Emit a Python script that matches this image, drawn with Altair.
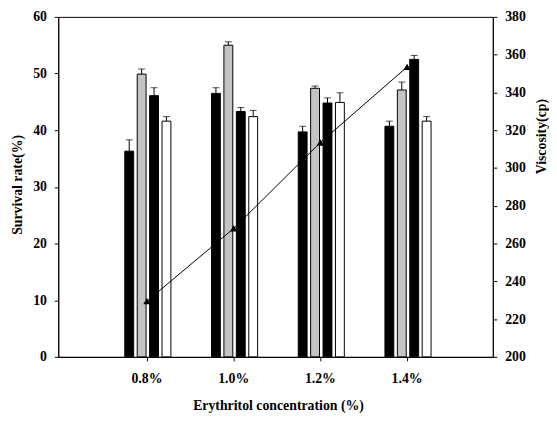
import altair as alt
import pandas as pd

concentrations = ["0.8%", "1.0%", "1.2%", "1.4%"]
series = ["A", "B", "C", "D"]
# survival rate (%) per series, per concentration
surv_A = [36.3, 46.5, 39.7, 40.7]
surv_B = [49.9, 55.0, 47.4, 47.1]
surv_C = [46.1, 43.3, 44.8, 52.5]
surv_D = [41.6, 42.4, 44.9, 41.6]
err_A = [2.0, 1.0, 1.0, 0.9]
err_B = [0.9, 0.6, 0.4, 1.4]
err_C = [1.4, 0.7, 0.9, 0.7]
err_D = [0.8, 1.1, 1.7, 0.8]
viscosity = [229.5, 268.0, 313.5, 353.5]

fills = {"A": "#000000", "B": "#c4c4c4", "C": "#000000", "D": "#ffffff"}

rows = []
for s, vals, errs in [("A", surv_A, err_A), ("B", surv_B, err_B),
                      ("C", surv_C, err_C), ("D", surv_D, err_D)]:
    for c, v, e in zip(concentrations, vals, errs):
        rows.append({"conc": c, "series": s, "value": v, "top": v + e})
bars_df = pd.DataFrame(rows)
visc_df = pd.DataFrame({"conc": concentrations, "visc": viscosity})

xscale = alt.Scale(domain=concentrations, paddingInner=0, paddingOuter=0.5057, align=0.517)
xoff = alt.XOffset("series:N", scale=alt.Scale(domain=series, range=[21.5, 68.3],
                                               paddingInner=0.286, paddingOuter=0))

x_enc = alt.X("conc:N", scale=xscale, sort=concentrations,
              axis=alt.Axis(title="Erythritol concentration (%)", labelAngle=0,
                            tickSize=4, labelPadding=11, titleX=223, titleY=49,
                            titleBaseline="middle", domainColor="black", tickColor="black"))

left_axis = alt.Axis(title="Survival rate(%)", values=[0, 10, 20, 30, 40, 50, 60],
                     grid=False, tickSize=4, labelPadding=8, titleX=-41, titleY=170,
                     titleAngle=270, titleAlign="center", titleBaseline="middle",
                     labelOverlap=False,
                     domainColor="black", tickColor="black")
left_scale = alt.Scale(domain=[0, 60])
yleft = alt.Y("value:Q", scale=left_scale, axis=left_axis)

bars = alt.Chart(bars_df).mark_bar(stroke="black", strokeWidth=1).encode(
    x=x_enc,
    xOffset=xoff,
    y=yleft,
    fill=alt.Fill("series:N", scale=alt.Scale(domain=series, range=[fills[s] for s in series]), legend=None),
)

err_rule = alt.Chart(bars_df).mark_rule(color="black", strokeWidth=1).encode(
    x=x_enc,
    xOffset=xoff,
    y=yleft,
    y2="top:Q",
)
err_cap = alt.Chart(bars_df).mark_tick(color="black", size=7, thickness=1).encode(
    x=x_enc,
    xOffset=xoff,
    y=alt.Y("top:Q", scale=left_scale, axis=left_axis),
)

left = alt.layer(bars, err_rule, err_cap)

right_axis = alt.Axis(title="Viscosity(cp)", orient="right",
                      values=list(range(200, 381, 20)), grid=False, tickSize=4,
                      labelPadding=8, titleX=49, titleY=121, titleAngle=270,
                      titleAlign="center", titleBaseline="middle",
                      labelOverlap=False,
                      domainColor="black", tickColor="black")
yright = alt.Y("visc:Q", scale=alt.Scale(domain=[200, 380]), axis=right_axis)

line = alt.Chart(visc_df).mark_line(color="black", strokeWidth=1).encode(
    x=x_enc, y=yright)
pts = alt.Chart(visc_df).mark_point(shape="triangle-up", filled=True, color="black",
                                    size=55, opacity=1).encode(
    x=x_enc, y=yright)
right = alt.layer(line, pts)

chart = alt.layer(left, right).resolve_scale(y="independent").properties(
    width=441, height=345,
    background="white",
    autosize=alt.AutoSizeParams(type="none"),
    padding={"left": 51, "top": 6, "right": 57, "bottom": 58},
).configure_view(stroke="black", strokeWidth=1).configure_axis(
    labelFont="Liberation Serif", titleFont="Liberation Serif",
    labelFontSize=14, titleFontSize=14, labelFontWeight="bold", titleFontWeight="bold",
    labelColor="black", titleColor="black",
)

chart.save("out.html", embed_options={"renderer": "svg", "actions": False})
